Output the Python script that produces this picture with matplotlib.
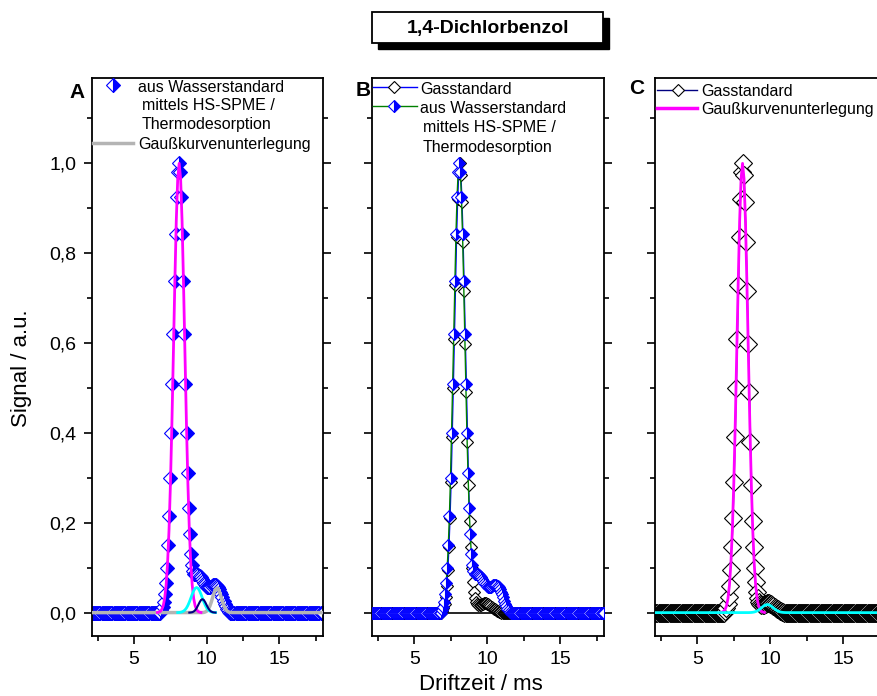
import numpy as np
import matplotlib
matplotlib.use("Agg")
import matplotlib.pyplot as plt
from matplotlib.patches import Rectangle
from matplotlib.lines import Line2D
from matplotlib.ticker import MultipleLocator, FuncFormatter

plt.rcParams['font.family'] = ['Liberation Sans', 'DejaVu Sans']

W, H = 877, 696

# drift time sampling of the spectra (ms)
step = 0.075
x_min, x_max = 2.0, 18.0

# aus Wasserstandard (HS-SPME / Thermodesorption), maximum at 8.08 ms
water_center = 8.08
water_left = [0.005, 0.012, 0.024, 0.042, 0.065, 0.10, 0.15, 0.215, 0.30, 0.40,
              0.51, 0.621, 0.739, 0.842, 0.926, 0.98]
water_right = [1.0, 0.98, 0.926, 0.842, 0.739, 0.621, 0.51, 0.40, 0.31, 0.234,
               0.176, 0.131, 0.105, 0.092, 0.087, 0.085, 0.085, 0.085, 0.084, 0.082,
               0.079, 0.075, 0.071, 0.067, 0.063, 0.060, 0.058, 0.057, 0.057, 0.058,
               0.060, 0.061, 0.062, 0.062, 0.061, 0.059, 0.056, 0.052, 0.047, 0.041,
               0.034, 0.027, 0.020, 0.014, 0.009, 0.005, 0.002]

# Gasstandard, maximum at 8.12 ms
gas_center = 8.12
gas_left = [0.004, 0.01, 0.02, 0.035, 0.06, 0.095, 0.145, 0.21, 0.29, 0.39,
            0.50, 0.61, 0.73, 0.835, 0.92, 0.98]
gas_right = [1.0, 0.973, 0.913, 0.826, 0.717, 0.599, 0.49, 0.38, 0.285, 0.205,
             0.145, 0.10, 0.068, 0.045, 0.032, 0.024, 0.019, 0.017, 0.017, 0.018,
             0.019, 0.020, 0.021, 0.021, 0.021, 0.020, 0.019, 0.017, 0.015, 0.013,
             0.011, 0.009, 0.007, 0.005, 0.004, 0.003, 0.002, 0.001]

# Gausskurven (Unterlegung), x in 0.1 ms steps
fit_main_x0 = 6.6
fit_main_y = [0.0004, 0.0011, 0.0029, 0.0068, 0.0151, 0.0313, 0.0605, 0.109, 0.183,
              0.288, 0.421, 0.575, 0.732, 0.871, 0.966, 1.0, 0.966, 0.871, 0.732,
              0.575, 0.421, 0.288, 0.183, 0.109, 0.0605, 0.0313, 0.0151, 0.0068,
              0.0029, 0.0011, 0.0004]
fit_a1_x0 = 8.0
fit_a1_y = [0.0002, 0.0004, 0.0008, 0.0018, 0.0034, 0.0061, 0.0102, 0.0161, 0.0236,
            0.0322, 0.041, 0.0488, 0.0541, 0.056, 0.0541, 0.0488, 0.041, 0.0322,
            0.0236, 0.0161, 0.0102, 0.0061, 0.0034, 0.0018, 0.0008, 0.0004, 0.0002]
fit_a2_x0 = 8.8
fit_a2_y = [0.0001, 0.0004, 0.001, 0.0025, 0.0054, 0.01, 0.0162, 0.0228, 0.028, 0.03,
            0.028, 0.0228, 0.0162, 0.01, 0.0054, 0.0025, 0.001, 0.0004, 0.0001]
fit_a3_x0 = 9.7
fit_a3_y = [0.0002, 0.0006, 0.0016, 0.0036, 0.0074, 0.0137, 0.0226, 0.0334, 0.0441,
            0.052, 0.055, 0.052, 0.0441, 0.0334, 0.0226, 0.0137, 0.0074, 0.0036,
            0.0016, 0.0006, 0.0002]
fit_c1_x0 = 8.5
fit_c1_y = [0.0001, 0.0002, 0.0004, 0.0008, 0.0014, 0.0024, 0.0039, 0.0059, 0.0082,
            0.0109, 0.0136, 0.0159, 0.0174, 0.018, 0.0174, 0.0159, 0.0136, 0.0109,
            0.0082, 0.0059, 0.0039, 0.0024, 0.0014, 0.0008, 0.0004, 0.0002, 0.0001]

BLUE = '#0000ff'
MAG = '#ff00ff'
CYAN = '#00ffff'
NAVY = '#000080'
GRAY = '#b4b4b4'
GREEN = '#008000'


def spectrum(center, left, right):
    n_before = int(round((center - x_min) / step))
    n_after = int(round((x_max - center) / step))
    y = [0.0] * (n_before - len(left)) + left + right + [0.0] * (n_after + 1 - len(right))
    x = center + step * np.arange(-n_before, n_after + 1)
    return x, np.array(y)


def curve(x0, ys, baseline=False):
    x = list(np.round(x0 + 0.1 * np.arange(len(ys)), 2))
    y = list(ys)
    if baseline:
        x = [x_min] + x + [x_max]
        y = [0.0] + y + [0.0]
    return x, y


wx, wy = spectrum(water_center, water_left, water_right)
gx, gy = spectrum(gas_center, gas_left, gas_right)

fig = plt.figure(figsize=(W / 100, H / 100), dpi=100)


def px_axes(left, top, right, bottom):
    return fig.add_axes([left / W, 1 - bottom / H, (right - left) / W, (bottom - top) / H])


axA = px_axes(92, 78, 323, 636)
axB = px_axes(372, 78, 604, 636)
axC = px_axes(655, 78, 887, 636)

for ax in (axA, axB, axC):
    ax.set_xlim(2.1, 18.0)
    ax.set_ylim(-0.052, 1.19)
    ax.xaxis.set_major_locator(MultipleLocator(5))
    ax.xaxis.set_minor_locator(MultipleLocator(2.5))
    ax.yaxis.set_major_locator(MultipleLocator(0.2))
    ax.yaxis.set_minor_locator(MultipleLocator(0.1))
    ax.tick_params(which='both', direction='out', right=True, width=1.2,
                   labelsize=14, pad=5)
    ax.tick_params(which='major', length=6)
    ax.tick_params(which='minor', length=3.5)
    for s in ax.spines.values():
        s.set_linewidth(1.3)
    ax.yaxis.set_major_formatter(FuncFormatter(lambda v, p: f"{v:.1f}".replace('.', ',')))
axB.tick_params(labelleft=False)
axC.tick_params(labelleft=False)

water_style = dict(marker='D', fillstyle='right', mfc=BLUE, mfcalt='white', mec=BLUE, mew=0.8)
gas_style = dict(marker='D', mfc='white', mec='black', mew=0.8)

# A
axA.plot(wx, wy, ls='none', ms=7.2, zorder=2, **water_style)
axA.plot(*curve(fit_a3_x0, fit_a3_y, True), color=GRAY, lw=2.5, zorder=3)
axA.plot(*curve(fit_main_x0, fit_main_y), color=MAG, lw=2, zorder=4)
axA.plot(*curve(fit_a1_x0, fit_a1_y), color=CYAN, lw=2, zorder=5)
axA.plot(*curve(fit_a2_x0, fit_a2_y), color=NAVY, lw=1.5, zorder=5)

# B
axB.axhline(0, color='black', lw=1.2, zorder=1)
axB.plot(gx, gy, color=BLUE, lw=1, ms=6.3, zorder=2, **gas_style)
axB.plot(wx, wy, color=GREEN, lw=1, ms=6, zorder=3, **water_style)

# C
axC.plot(gx, gy, color=NAVY, lw=1, ms=8.8, zorder=2, **gas_style)
axC.plot(*curve(fit_main_x0, fit_main_y), color=MAG, lw=2, zorder=3)
axC.plot(*curve(fit_c1_x0, fit_c1_y, True), color=CYAN, lw=2, zorder=4)


# figure helpers in pixel coordinates
def fig_line(x0, x1, y, **kw):
    fig.add_artist(Line2D([x0 / W, x1 / W], [1 - y / H, 1 - y / H], transform=fig.transFigure, **kw))


def fig_marker(x, y, **kw):
    fig.add_artist(Line2D([x / W], [1 - y / H], transform=fig.transFigure, ls='none', **kw))


def fig_text(x, y, s, **kw):
    kw.setdefault('va', 'center_baseline')
    fig.text(x / W, 1 - y / H, s, **kw)


LFS = 11.5
# legend A
fig_marker(113, 85, ms=7, **water_style)
fig_text(138, 86, 'aus Wasserstandard', fontsize=LFS)
fig_text(142, 104, 'mittels HS-SPME /', fontsize=LFS)
fig_text(142, 123, 'Thermodesorption', fontsize=LFS)
fig_line(93, 133, 143, color=GRAY, lw=2.5)
fig_text(138, 143, 'Gaußkurvenunterlegung', fontsize=LFS)

# legend B
fig_line(373, 417, 87, color=BLUE, lw=1)
fig_marker(394, 87, ms=6.5, **gas_style)
fig_text(420, 88, 'Gasstandard', fontsize=LFS)
fig_line(373, 417, 106, color=GREEN, lw=1)
fig_marker(394, 106, ms=6.5, **water_style)
fig_text(420, 107, 'aus Wasserstandard', fontsize=LFS)
fig_text(423, 126, 'mittels HS-SPME /', fontsize=LFS)
fig_text(423, 146, 'Thermodesorption', fontsize=LFS)

# legend C
fig_line(657, 697, 90, color=NAVY, lw=1)
fig_marker(678, 90, ms=6.5, **gas_style)
fig_text(701, 90, 'Gasstandard', fontsize=LFS)
fig_line(657, 697, 108, color=MAG, lw=2.5)
fig_text(701, 108, 'Gaußkurvenunterlegung', fontsize=LFS)

# panel letters
fig_text(77, 92, 'A', fontsize=15, fontweight='bold', ha='center', va='center')
fig_text(363, 90, 'B', fontsize=15, fontweight='bold', ha='center', va='center')
fig_text(637, 89, 'C', fontsize=15, fontweight='bold', ha='center', va='center')

# title box with shadow
fig.add_artist(Rectangle((378 / W, 1 - 49 / H), 231 / W, 31 / H, transform=fig.transFigure,
                         facecolor='black', edgecolor='black', lw=1))
fig.add_artist(Rectangle((372 / W, 1 - 43 / H), 231 / W, 31 / H, transform=fig.transFigure,
                         facecolor='white', edgecolor='black', lw=1.3))
fig_text(487.5, 28, '1,4-Dichlorbenzol', fontsize=14, fontweight='bold', ha='center', va='center')

# axis labels
fig_text(22, 368, 'Signal / a.u.', fontsize=16, rotation=90, ha='center', va='center')
fig_text(481, 684, 'Driftzeit / ms', fontsize=16, ha='center', va='center')

fig.savefig('out.png', dpi=100)
